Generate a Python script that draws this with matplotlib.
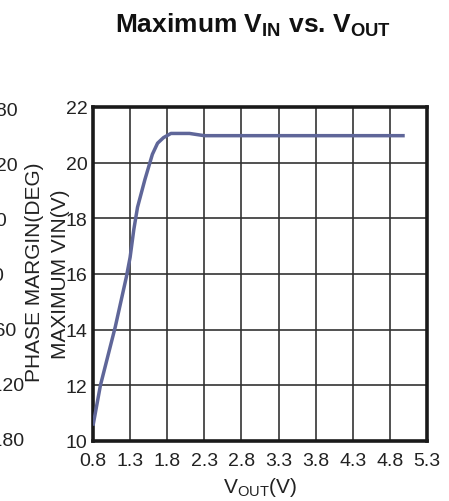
import matplotlib
matplotlib.use("Agg")
import matplotlib.pyplot as plt

plt.rcParams["font.family"] = ["Liberation Sans", "DejaVu Sans"]
plt.rcParams["mathtext.fontset"] = "custom"
plt.rcParams["mathtext.rm"] = "Liberation Sans"
plt.rcParams["mathtext.bf"] = "Liberation Sans:bold"

# curve
vout = [0.8, 0.9, 1.1, 1.25, 1.3, 1.35, 1.4, 1.5, 1.6, 1.67, 1.75, 1.85, 2.1, 2.3, 5.0]
vin_max = [10.55, 12.0, 14.1, 15.9, 16.6, 17.6, 18.4, 19.4, 20.3, 20.7, 20.9, 21.05, 21.05, 20.97, 20.97]

x_ticks = [0.8, 1.3, 1.8, 2.3, 2.8, 3.3, 3.8, 4.3, 4.8, 5.3]
y_ticks = [10, 12, 14, 16, 18, 20, 22]

# leftover labels of a neighbouring chart, cut by the left edge
stray_labels = ["180", "120", "60", "0", "-60", "-120", "-180"]
stray_y = [112, 167, 222, 277, 332, 387, 442]
stray_right = [18, 18, 7, 3, 16, 24, 24]

W, H = 449, 502
fig = plt.figure(figsize=(W / 100, H / 100), dpi=100)
ax = fig.add_axes([93 / W, 1 - 442 / H, (427 - 93) / W, (442 - 108) / H])

ax.plot(vout, vin_max, color="#5f6699", lw=2.5, solid_capstyle="butt", zorder=3)

ax.set_xlim(0.8, 5.3)
ax.set_ylim(10, 22)
ax.set_xticks(x_ticks)
ax.set_xticklabels([f"{v:.1f}" for v in x_ticks])
ax.set_yticks(y_ticks)
ax.tick_params(length=0, labelsize=14, colors="#222222")
ax.tick_params(axis="x", pad=8)
ax.tick_params(axis="y", pad=4)
ax.grid(True, color="#333333", lw=1.2)
for s in ax.spines.values():
    s.set_linewidth(2.6)
    s.set_color("#1a1a1a")

ax.set_xlabel(r"V$_{\rm OUT}$(V)", fontsize=15, color="#222222", labelpad=4)

fig.text(60 / W, 1 - 274 / H, "MAXIMUM VIN(V)", rotation=90, fontsize=15,
         color="#222222", ha="center", va="center")
fig.text(35 / W, 1 - 272 / H, "PHASE MARGIN(DEG)", rotation=90, fontsize=15,
         color="#222222", ha="center", va="center")

for lab, yy, xr in zip(stray_labels, stray_y, stray_right):
    fig.text(xr / W, 1 - yy / H, lab, fontsize=14, color="#222222",
             ha="right", va="center")

fig.text(253 / W, 1 - 25 / H, r"Maximum V$_{\bf IN}$ vs. V$_{\bf OUT}$",
         fontsize=19, fontweight="bold", color="#111111", ha="center", va="center")

fig.savefig("out.png", dpi=100)
